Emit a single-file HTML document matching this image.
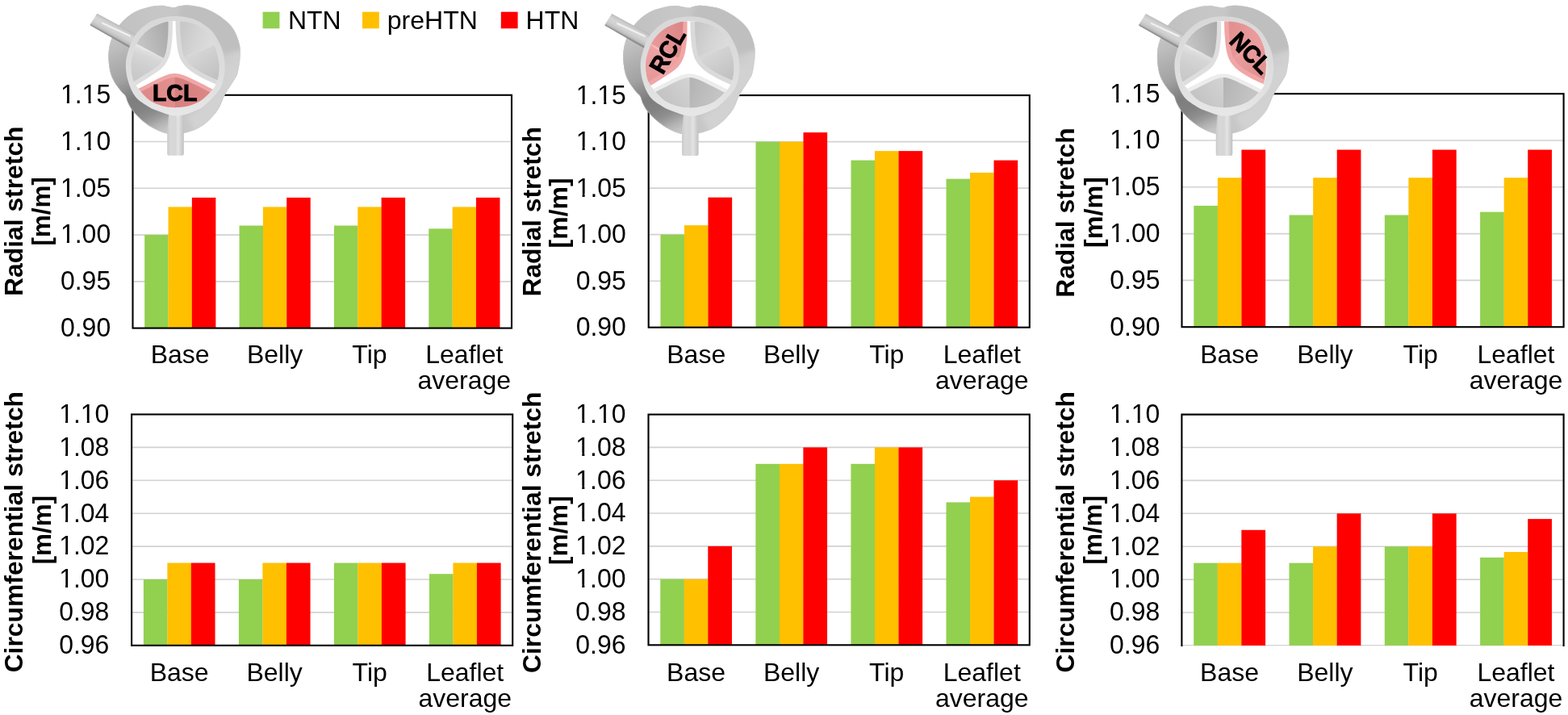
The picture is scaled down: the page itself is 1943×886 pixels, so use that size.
<!DOCTYPE html>
<html lang="en">
<head>
<meta charset="utf-8">
<title>Leaflet stretch charts</title>
<style>
html,body{margin:0;padding:0;background:#fff;}
body{width:1943px;height:886px;overflow:hidden;}
svg{display:block;}
text{font-family:"Liberation Sans",Arial,Helvetica,sans-serif;fill:#000;}
.t{font-size:32px;}
.b{font-size:32px;font-weight:bold;}
.v{font-size:28.5px;font-weight:bold;stroke:#000;stroke-width:1px;stroke-linejoin:miter;}
</style>
</head>
<body>
<svg width="1943" height="886" viewBox="0 0 1943 886">
<rect width="1943" height="886" fill="#fff"/>
<g>
<line x1="164.5" y1="348.84" x2="634" y2="348.84" stroke="#D2D2D2" stroke-width="1.6"/>
<line x1="164.5" y1="291.08" x2="634" y2="291.08" stroke="#D2D2D2" stroke-width="1.6"/>
<line x1="164.5" y1="233.32" x2="634" y2="233.32" stroke="#D2D2D2" stroke-width="1.6"/>
<line x1="164.5" y1="175.56" x2="634" y2="175.56" stroke="#D2D2D2" stroke-width="1.6"/>
<rect x="179.17" y="291.08" width="29.49" height="115.52" fill="#92D050"/>
<rect x="208.52" y="256.42" width="29.49" height="150.18" fill="#FFC000"/>
<rect x="237.86" y="244.87" width="29.49" height="161.73" fill="#FF0000"/>
<rect x="296.55" y="279.53" width="29.49" height="127.07" fill="#92D050"/>
<rect x="325.89" y="256.42" width="29.49" height="150.18" fill="#FFC000"/>
<rect x="355.23" y="244.87" width="29.49" height="161.73" fill="#FF0000"/>
<rect x="413.92" y="279.53" width="29.49" height="127.07" fill="#92D050"/>
<rect x="443.27" y="256.42" width="29.49" height="150.18" fill="#FFC000"/>
<rect x="472.61" y="244.87" width="29.49" height="161.73" fill="#FF0000"/>
<rect x="531.3" y="283.37" width="29.49" height="123.23" fill="#92D050"/>
<rect x="560.64" y="256.42" width="29.49" height="150.18" fill="#FFC000"/>
<rect x="589.98" y="244.87" width="29.49" height="161.73" fill="#FF0000"/>
<rect x="164.5" y="117.8" width="469.5" height="288.8" fill="none" stroke="#000" stroke-width="2.1"/>
<text transform="translate(137.2 417) scale(1 1.045)" text-anchor="end" class="t">0.90</text>
<text transform="translate(137.2 359.24) scale(1 1.045)" text-anchor="end" class="t">0.95</text>
<text transform="translate(137.2 301.48) scale(1 1.045)" text-anchor="end" class="t">1.00</text>
<rect x="76.52" y="297.78" width="6.35" height="4.5" fill="#fff"/>
<rect x="85.92" y="297.78" width="6" height="4.5" fill="#fff"/>
<text transform="translate(137.2 243.72) scale(1 1.045)" text-anchor="end" class="t">1.05</text>
<rect x="76.52" y="240.02" width="6.35" height="4.5" fill="#fff"/>
<rect x="85.92" y="240.02" width="6" height="4.5" fill="#fff"/>
<text transform="translate(137.2 185.96) scale(1 1.045)" text-anchor="end" class="t">1.10</text>
<rect x="76.52" y="182.26" width="6.35" height="4.5" fill="#fff"/>
<rect x="85.92" y="182.26" width="6" height="4.5" fill="#fff"/>
<rect x="103.21" y="182.26" width="6.35" height="4.5" fill="#fff"/>
<rect x="112.61" y="182.26" width="6" height="4.5" fill="#fff"/>
<text transform="translate(137.2 128.2) scale(1 1.045)" text-anchor="end" class="t">1.15</text>
<rect x="76.52" y="124.5" width="6.35" height="4.5" fill="#fff"/>
<rect x="85.92" y="124.5" width="6" height="4.5" fill="#fff"/>
<rect x="103.21" y="124.5" width="6.35" height="4.5" fill="#fff"/>
<rect x="112.61" y="124.5" width="6" height="4.5" fill="#fff"/>
<text transform="translate(223.19 450.1)" text-anchor="middle" class="t">Base</text>
<text transform="translate(340.56 450.1)" text-anchor="middle" class="t">Belly</text>
<text transform="translate(457.94 450.1)" text-anchor="middle" class="t">Tip</text>
<text transform="translate(575.31 450.1)" text-anchor="middle" class="t">Leaflet</text>
<text transform="translate(575.31 482.1)" text-anchor="middle" class="t">average</text>
<text transform="translate(27.7 261.7) rotate(-90) scale(0.995 1)" text-anchor="middle" class="b">Radial stretch</text>
<text transform="translate(61.6 261.9) rotate(-90) scale(0.98 0.97)" text-anchor="middle" class="b">[m/m]</text>
</g>
<g>
<line x1="803.7" y1="348.18" x2="1275.8" y2="348.18" stroke="#D2D2D2" stroke-width="1.6"/>
<line x1="803.7" y1="290.66" x2="1275.8" y2="290.66" stroke="#D2D2D2" stroke-width="1.6"/>
<line x1="803.7" y1="233.14" x2="1275.8" y2="233.14" stroke="#D2D2D2" stroke-width="1.6"/>
<line x1="803.7" y1="175.62" x2="1275.8" y2="175.62" stroke="#D2D2D2" stroke-width="1.6"/>
<rect x="818.45" y="290.66" width="29.66" height="115.04" fill="#92D050"/>
<rect x="847.96" y="279.16" width="29.66" height="126.54" fill="#FFC000"/>
<rect x="877.47" y="244.64" width="29.66" height="161.06" fill="#FF0000"/>
<rect x="936.48" y="175.62" width="29.66" height="230.08" fill="#92D050"/>
<rect x="965.98" y="175.62" width="29.66" height="230.08" fill="#FFC000"/>
<rect x="995.49" y="164.12" width="29.66" height="241.58" fill="#FF0000"/>
<rect x="1054.5" y="198.63" width="29.66" height="207.07" fill="#92D050"/>
<rect x="1084.01" y="187.12" width="29.66" height="218.58" fill="#FFC000"/>
<rect x="1113.52" y="187.12" width="29.66" height="218.58" fill="#FF0000"/>
<rect x="1172.53" y="221.64" width="29.66" height="184.06" fill="#92D050"/>
<rect x="1202.03" y="213.96" width="29.66" height="191.74" fill="#FFC000"/>
<rect x="1231.54" y="198.63" width="29.66" height="207.07" fill="#FF0000"/>
<rect x="803.7" y="118.1" width="472.1" height="287.6" fill="none" stroke="#000" stroke-width="2.1"/>
<text transform="translate(775.9 416.1) scale(1 1.045)" text-anchor="end" class="t">0.90</text>
<text transform="translate(775.9 358.58) scale(1 1.045)" text-anchor="end" class="t">0.95</text>
<text transform="translate(775.9 301.06) scale(1 1.045)" text-anchor="end" class="t">1.00</text>
<rect x="715.22" y="297.36" width="6.35" height="4.5" fill="#fff"/>
<rect x="724.62" y="297.36" width="6" height="4.5" fill="#fff"/>
<text transform="translate(775.9 243.54) scale(1 1.045)" text-anchor="end" class="t">1.05</text>
<rect x="715.22" y="239.84" width="6.35" height="4.5" fill="#fff"/>
<rect x="724.62" y="239.84" width="6" height="4.5" fill="#fff"/>
<text transform="translate(775.9 186.02) scale(1 1.045)" text-anchor="end" class="t">1.10</text>
<rect x="715.22" y="182.32" width="6.35" height="4.5" fill="#fff"/>
<rect x="724.62" y="182.32" width="6" height="4.5" fill="#fff"/>
<rect x="741.91" y="182.32" width="6.35" height="4.5" fill="#fff"/>
<rect x="751.31" y="182.32" width="6" height="4.5" fill="#fff"/>
<text transform="translate(775.9 128.5) scale(1 1.045)" text-anchor="end" class="t">1.15</text>
<rect x="715.22" y="124.8" width="6.35" height="4.5" fill="#fff"/>
<rect x="724.62" y="124.8" width="6" height="4.5" fill="#fff"/>
<rect x="741.91" y="124.8" width="6.35" height="4.5" fill="#fff"/>
<rect x="751.31" y="124.8" width="6" height="4.5" fill="#fff"/>
<text transform="translate(862.71 450.1)" text-anchor="middle" class="t">Base</text>
<text transform="translate(980.74 450.1)" text-anchor="middle" class="t">Belly</text>
<text transform="translate(1098.76 450.1)" text-anchor="middle" class="t">Tip</text>
<text transform="translate(1216.79 450.1)" text-anchor="middle" class="t">Leaflet</text>
<text transform="translate(1216.79 482.1)" text-anchor="middle" class="t">average</text>
<text transform="translate(669.7 262.35) rotate(-90) scale(0.995 1)" text-anchor="middle" class="b">Radial stretch</text>
<text transform="translate(703 263.9) rotate(-90) scale(1 0.97)" text-anchor="middle" class="b">[m/m]</text>
</g>
<g>
<line x1="1464.5" y1="347.4" x2="1937.6" y2="347.4" stroke="#D2D2D2" stroke-width="1.6"/>
<line x1="1464.5" y1="289.6" x2="1937.6" y2="289.6" stroke="#D2D2D2" stroke-width="1.6"/>
<line x1="1464.5" y1="231.8" x2="1937.6" y2="231.8" stroke="#D2D2D2" stroke-width="1.6"/>
<line x1="1464.5" y1="174" x2="1937.6" y2="174" stroke="#D2D2D2" stroke-width="1.6"/>
<rect x="1479.28" y="254.92" width="29.72" height="150.28" fill="#92D050"/>
<rect x="1508.85" y="220.24" width="29.72" height="184.96" fill="#FFC000"/>
<rect x="1538.42" y="185.56" width="29.72" height="219.64" fill="#FF0000"/>
<rect x="1597.56" y="266.48" width="29.72" height="138.72" fill="#92D050"/>
<rect x="1627.13" y="220.24" width="29.72" height="184.96" fill="#FFC000"/>
<rect x="1656.7" y="185.56" width="29.72" height="219.64" fill="#FF0000"/>
<rect x="1715.83" y="266.48" width="29.72" height="138.72" fill="#92D050"/>
<rect x="1745.4" y="220.24" width="29.72" height="184.96" fill="#FFC000"/>
<rect x="1774.97" y="185.56" width="29.72" height="219.64" fill="#FF0000"/>
<rect x="1834.11" y="262.63" width="29.72" height="142.57" fill="#92D050"/>
<rect x="1863.68" y="220.24" width="29.72" height="184.96" fill="#FFC000"/>
<rect x="1893.25" y="185.56" width="29.72" height="219.64" fill="#FF0000"/>
<rect x="1464.5" y="116.2" width="473.1" height="289" fill="none" stroke="#000" stroke-width="2.1"/>
<text transform="translate(1437.5 415.6) scale(1 1.045)" text-anchor="end" class="t">0.90</text>
<text transform="translate(1437.5 357.8) scale(1 1.045)" text-anchor="end" class="t">0.95</text>
<text transform="translate(1437.5 300) scale(1 1.045)" text-anchor="end" class="t">1.00</text>
<rect x="1376.82" y="296.3" width="6.35" height="4.5" fill="#fff"/>
<rect x="1386.22" y="296.3" width="6" height="4.5" fill="#fff"/>
<text transform="translate(1437.5 242.2) scale(1 1.045)" text-anchor="end" class="t">1.05</text>
<rect x="1376.82" y="238.5" width="6.35" height="4.5" fill="#fff"/>
<rect x="1386.22" y="238.5" width="6" height="4.5" fill="#fff"/>
<text transform="translate(1437.5 184.4) scale(1 1.045)" text-anchor="end" class="t">1.10</text>
<rect x="1376.82" y="180.7" width="6.35" height="4.5" fill="#fff"/>
<rect x="1386.22" y="180.7" width="6" height="4.5" fill="#fff"/>
<rect x="1403.51" y="180.7" width="6.35" height="4.5" fill="#fff"/>
<rect x="1412.91" y="180.7" width="6" height="4.5" fill="#fff"/>
<text transform="translate(1437.5 126.6) scale(1 1.045)" text-anchor="end" class="t">1.15</text>
<rect x="1376.82" y="122.9" width="6.35" height="4.5" fill="#fff"/>
<rect x="1386.22" y="122.9" width="6" height="4.5" fill="#fff"/>
<rect x="1403.51" y="122.9" width="6.35" height="4.5" fill="#fff"/>
<rect x="1412.91" y="122.9" width="6" height="4.5" fill="#fff"/>
<text transform="translate(1523.64 449.7)" text-anchor="middle" class="t">Base</text>
<text transform="translate(1641.91 449.7)" text-anchor="middle" class="t">Belly</text>
<text transform="translate(1760.19 449.7)" text-anchor="middle" class="t">Tip</text>
<text transform="translate(1878.46 449.7)" text-anchor="middle" class="t">Leaflet</text>
<text transform="translate(1878.46 481.7)" text-anchor="middle" class="t">average</text>
<text transform="translate(1330.9 263.6) rotate(-90) scale(0.995 1)" text-anchor="middle" class="b">Radial stretch</text>
<text transform="translate(1365.7 263.1) rotate(-90) scale(1.01 0.97)" text-anchor="middle" class="b">[m/m]</text>
</g>
<g>
<line x1="163.1" y1="758.9" x2="635.2" y2="758.9" stroke="#D2D2D2" stroke-width="1.6"/>
<line x1="163.1" y1="718" x2="635.2" y2="718" stroke="#D2D2D2" stroke-width="1.6"/>
<line x1="163.1" y1="677.1" x2="635.2" y2="677.1" stroke="#D2D2D2" stroke-width="1.6"/>
<line x1="163.1" y1="636.2" x2="635.2" y2="636.2" stroke="#D2D2D2" stroke-width="1.6"/>
<line x1="163.1" y1="595.3" x2="635.2" y2="595.3" stroke="#D2D2D2" stroke-width="1.6"/>
<line x1="163.1" y1="554.4" x2="635.2" y2="554.4" stroke="#D2D2D2" stroke-width="1.6"/>
<rect x="177.85" y="718" width="29.66" height="81.8" fill="#92D050"/>
<rect x="207.36" y="697.55" width="29.66" height="102.25" fill="#FFC000"/>
<rect x="236.87" y="697.55" width="29.66" height="102.25" fill="#FF0000"/>
<rect x="295.88" y="718" width="29.66" height="81.8" fill="#92D050"/>
<rect x="325.38" y="697.55" width="29.66" height="102.25" fill="#FFC000"/>
<rect x="354.89" y="697.55" width="29.66" height="102.25" fill="#FF0000"/>
<rect x="413.9" y="697.55" width="29.66" height="102.25" fill="#92D050"/>
<rect x="443.41" y="697.55" width="29.66" height="102.25" fill="#FFC000"/>
<rect x="472.92" y="697.55" width="29.66" height="102.25" fill="#FF0000"/>
<rect x="531.93" y="711.19" width="29.66" height="88.61" fill="#92D050"/>
<rect x="561.43" y="697.55" width="29.66" height="102.25" fill="#FFC000"/>
<rect x="590.94" y="697.55" width="29.66" height="102.25" fill="#FF0000"/>
<rect x="163.1" y="513.5" width="472.1" height="286.3" fill="none" stroke="#000" stroke-width="2.1"/>
<text transform="translate(135.4 810.1) scale(1 1.045)" text-anchor="end" class="t">0.96</text>
<text transform="translate(135.4 769.2) scale(1 1.045)" text-anchor="end" class="t">0.98</text>
<text transform="translate(135.4 728.3) scale(1 1.045)" text-anchor="end" class="t">1.00</text>
<rect x="74.72" y="724.6" width="6.35" height="4.5" fill="#fff"/>
<rect x="84.12" y="724.6" width="6" height="4.5" fill="#fff"/>
<text transform="translate(135.4 687.4) scale(1 1.045)" text-anchor="end" class="t">1.02</text>
<rect x="74.72" y="683.7" width="6.35" height="4.5" fill="#fff"/>
<rect x="84.12" y="683.7" width="6" height="4.5" fill="#fff"/>
<text transform="translate(135.4 646.5) scale(1 1.045)" text-anchor="end" class="t">1.04</text>
<rect x="74.72" y="642.8" width="6.35" height="4.5" fill="#fff"/>
<rect x="84.12" y="642.8" width="6" height="4.5" fill="#fff"/>
<text transform="translate(135.4 605.6) scale(1 1.045)" text-anchor="end" class="t">1.06</text>
<rect x="74.72" y="601.9" width="6.35" height="4.5" fill="#fff"/>
<rect x="84.12" y="601.9" width="6" height="4.5" fill="#fff"/>
<text transform="translate(135.4 564.7) scale(1 1.045)" text-anchor="end" class="t">1.08</text>
<rect x="74.72" y="561" width="6.35" height="4.5" fill="#fff"/>
<rect x="84.12" y="561" width="6" height="4.5" fill="#fff"/>
<text transform="translate(135.4 523.8) scale(1 1.045)" text-anchor="end" class="t">1.10</text>
<rect x="74.72" y="520.1" width="6.35" height="4.5" fill="#fff"/>
<rect x="84.12" y="520.1" width="6" height="4.5" fill="#fff"/>
<rect x="101.41" y="520.1" width="6.35" height="4.5" fill="#fff"/>
<rect x="110.81" y="520.1" width="6" height="4.5" fill="#fff"/>
<text transform="translate(222.11 844.2)" text-anchor="middle" class="t">Base</text>
<text transform="translate(340.14 844.2)" text-anchor="middle" class="t">Belly</text>
<text transform="translate(458.16 844.2)" text-anchor="middle" class="t">Tip</text>
<text transform="translate(576.19 844.2)" text-anchor="middle" class="t">Leaflet</text>
<text transform="translate(576.19 876.2)" text-anchor="middle" class="t">average</text>
<text transform="translate(27.8 659.15) rotate(-90) scale(0.995 1)" text-anchor="middle" class="b">Circumferential stretch</text>
<text transform="translate(62.6 656.65) rotate(-90) scale(0.98 0.97)" text-anchor="middle" class="b">[m/m]</text>
</g>
<g>
<line x1="803.5" y1="758.49" x2="1275.8" y2="758.49" stroke="#D2D2D2" stroke-width="1.6"/>
<line x1="803.5" y1="717.67" x2="1275.8" y2="717.67" stroke="#D2D2D2" stroke-width="1.6"/>
<line x1="803.5" y1="676.86" x2="1275.8" y2="676.86" stroke="#D2D2D2" stroke-width="1.6"/>
<line x1="803.5" y1="636.04" x2="1275.8" y2="636.04" stroke="#D2D2D2" stroke-width="1.6"/>
<line x1="803.5" y1="595.23" x2="1275.8" y2="595.23" stroke="#D2D2D2" stroke-width="1.6"/>
<line x1="803.5" y1="554.41" x2="1275.8" y2="554.41" stroke="#D2D2D2" stroke-width="1.6"/>
<rect x="818.26" y="717.67" width="29.67" height="81.63" fill="#92D050"/>
<rect x="847.78" y="717.67" width="29.67" height="81.63" fill="#FFC000"/>
<rect x="877.3" y="676.86" width="29.67" height="122.44" fill="#FF0000"/>
<rect x="936.33" y="574.82" width="29.67" height="224.48" fill="#92D050"/>
<rect x="965.85" y="574.82" width="29.67" height="224.48" fill="#FFC000"/>
<rect x="995.37" y="554.41" width="29.67" height="244.89" fill="#FF0000"/>
<rect x="1054.41" y="574.82" width="29.67" height="224.48" fill="#92D050"/>
<rect x="1083.93" y="554.41" width="29.67" height="244.89" fill="#FFC000"/>
<rect x="1113.45" y="554.41" width="29.67" height="244.89" fill="#FF0000"/>
<rect x="1172.48" y="622.43" width="29.67" height="176.87" fill="#92D050"/>
<rect x="1202" y="615.64" width="29.67" height="183.66" fill="#FFC000"/>
<rect x="1231.52" y="595.23" width="29.67" height="204.07" fill="#FF0000"/>
<rect x="803.5" y="513.6" width="472.3" height="285.7" fill="none" stroke="#000" stroke-width="2.1"/>
<text transform="translate(775.6 809.6) scale(1 1.045)" text-anchor="end" class="t">0.96</text>
<text transform="translate(775.6 768.79) scale(1 1.045)" text-anchor="end" class="t">0.98</text>
<text transform="translate(775.6 727.97) scale(1 1.045)" text-anchor="end" class="t">1.00</text>
<rect x="714.92" y="724.27" width="6.35" height="4.5" fill="#fff"/>
<rect x="724.32" y="724.27" width="6" height="4.5" fill="#fff"/>
<text transform="translate(775.6 687.16) scale(1 1.045)" text-anchor="end" class="t">1.02</text>
<rect x="714.92" y="683.46" width="6.35" height="4.5" fill="#fff"/>
<rect x="724.32" y="683.46" width="6" height="4.5" fill="#fff"/>
<text transform="translate(775.6 646.34) scale(1 1.045)" text-anchor="end" class="t">1.04</text>
<rect x="714.92" y="642.64" width="6.35" height="4.5" fill="#fff"/>
<rect x="724.32" y="642.64" width="6" height="4.5" fill="#fff"/>
<text transform="translate(775.6 605.53) scale(1 1.045)" text-anchor="end" class="t">1.06</text>
<rect x="714.92" y="601.83" width="6.35" height="4.5" fill="#fff"/>
<rect x="724.32" y="601.83" width="6" height="4.5" fill="#fff"/>
<text transform="translate(775.6 564.71) scale(1 1.045)" text-anchor="end" class="t">1.08</text>
<rect x="714.92" y="561.01" width="6.35" height="4.5" fill="#fff"/>
<rect x="724.32" y="561.01" width="6" height="4.5" fill="#fff"/>
<text transform="translate(775.6 523.9) scale(1 1.045)" text-anchor="end" class="t">1.10</text>
<rect x="714.92" y="520.2" width="6.35" height="4.5" fill="#fff"/>
<rect x="724.32" y="520.2" width="6" height="4.5" fill="#fff"/>
<rect x="741.61" y="520.2" width="6.35" height="4.5" fill="#fff"/>
<rect x="751.01" y="520.2" width="6" height="4.5" fill="#fff"/>
<text transform="translate(862.54 844.2)" text-anchor="middle" class="t">Base</text>
<text transform="translate(980.61 844.2)" text-anchor="middle" class="t">Belly</text>
<text transform="translate(1098.69 844.2)" text-anchor="middle" class="t">Tip</text>
<text transform="translate(1216.76 844.2)" text-anchor="middle" class="t">Leaflet</text>
<text transform="translate(1216.76 876.2)" text-anchor="middle" class="t">average</text>
<text transform="translate(669.75 659.75) rotate(-90) scale(0.995 1)" text-anchor="middle" class="b">Circumferential stretch</text>
<text transform="translate(702.7 657.25) rotate(-90) scale(0.98 0.97)" text-anchor="middle" class="b">[m/m]</text>
</g>
<g>
<line x1="1464.4" y1="759" x2="1937.6" y2="759" stroke="#D2D2D2" stroke-width="1.6"/>
<line x1="1464.4" y1="718.1" x2="1937.6" y2="718.1" stroke="#D2D2D2" stroke-width="1.6"/>
<line x1="1464.4" y1="677.2" x2="1937.6" y2="677.2" stroke="#D2D2D2" stroke-width="1.6"/>
<line x1="1464.4" y1="636.3" x2="1937.6" y2="636.3" stroke="#D2D2D2" stroke-width="1.6"/>
<line x1="1464.4" y1="595.4" x2="1937.6" y2="595.4" stroke="#D2D2D2" stroke-width="1.6"/>
<line x1="1464.4" y1="554.5" x2="1937.6" y2="554.5" stroke="#D2D2D2" stroke-width="1.6"/>
<line x1="1464.4" y1="799.6" x2="1937.6" y2="799.6" stroke="#D2D2D2" stroke-width="1.2"/>
<rect x="1479.19" y="697.65" width="29.72" height="102.25" fill="#92D050"/>
<rect x="1508.76" y="697.65" width="29.72" height="102.25" fill="#FFC000"/>
<rect x="1538.34" y="656.75" width="29.72" height="143.15" fill="#FF0000"/>
<rect x="1597.49" y="697.65" width="29.72" height="102.25" fill="#92D050"/>
<rect x="1627.06" y="677.2" width="29.72" height="122.7" fill="#FFC000"/>
<rect x="1656.64" y="636.3" width="29.72" height="163.6" fill="#FF0000"/>
<rect x="1715.79" y="677.2" width="29.72" height="122.7" fill="#92D050"/>
<rect x="1745.36" y="677.2" width="29.72" height="122.7" fill="#FFC000"/>
<rect x="1774.94" y="636.3" width="29.72" height="163.6" fill="#FF0000"/>
<rect x="1834.09" y="690.84" width="29.72" height="109.06" fill="#92D050"/>
<rect x="1863.66" y="684.01" width="29.72" height="115.89" fill="#FFC000"/>
<rect x="1893.24" y="643.11" width="29.72" height="156.79" fill="#FF0000"/>
<path d="M1464.4 800.9V513.6H1937.6V800.9" fill="none" stroke="#000" stroke-width="2.1" stroke-linejoin="miter"/>
<text transform="translate(1437.3 810.2) scale(1 1.045)" text-anchor="end" class="t">0.96</text>
<text transform="translate(1437.3 769.3) scale(1 1.045)" text-anchor="end" class="t">0.98</text>
<text transform="translate(1437.3 728.4) scale(1 1.045)" text-anchor="end" class="t">1.00</text>
<rect x="1376.62" y="724.7" width="6.35" height="4.5" fill="#fff"/>
<rect x="1386.02" y="724.7" width="6" height="4.5" fill="#fff"/>
<text transform="translate(1437.3 687.5) scale(1 1.045)" text-anchor="end" class="t">1.02</text>
<rect x="1376.62" y="683.8" width="6.35" height="4.5" fill="#fff"/>
<rect x="1386.02" y="683.8" width="6" height="4.5" fill="#fff"/>
<text transform="translate(1437.3 646.6) scale(1 1.045)" text-anchor="end" class="t">1.04</text>
<rect x="1376.62" y="642.9" width="6.35" height="4.5" fill="#fff"/>
<rect x="1386.02" y="642.9" width="6" height="4.5" fill="#fff"/>
<text transform="translate(1437.3 605.7) scale(1 1.045)" text-anchor="end" class="t">1.06</text>
<rect x="1376.62" y="602" width="6.35" height="4.5" fill="#fff"/>
<rect x="1386.02" y="602" width="6" height="4.5" fill="#fff"/>
<text transform="translate(1437.3 564.8) scale(1 1.045)" text-anchor="end" class="t">1.08</text>
<rect x="1376.62" y="561.1" width="6.35" height="4.5" fill="#fff"/>
<rect x="1386.02" y="561.1" width="6" height="4.5" fill="#fff"/>
<text transform="translate(1437.3 523.9) scale(1 1.045)" text-anchor="end" class="t">1.10</text>
<rect x="1376.62" y="520.2" width="6.35" height="4.5" fill="#fff"/>
<rect x="1386.02" y="520.2" width="6" height="4.5" fill="#fff"/>
<rect x="1403.31" y="520.2" width="6.35" height="4.5" fill="#fff"/>
<rect x="1412.71" y="520.2" width="6" height="4.5" fill="#fff"/>
<text transform="translate(1523.55 844.2)" text-anchor="middle" class="t">Base</text>
<text transform="translate(1641.85 844.2)" text-anchor="middle" class="t">Belly</text>
<text transform="translate(1760.15 844.2)" text-anchor="middle" class="t">Tip</text>
<text transform="translate(1878.45 844.2)" text-anchor="middle" class="t">Leaflet</text>
<text transform="translate(1878.45 876.2)" text-anchor="middle" class="t">average</text>
<text transform="translate(1330.9 659.25) rotate(-90) scale(0.995 1)" text-anchor="middle" class="b">Circumferential stretch</text>
<text transform="translate(1364.8 656.75) rotate(-90) scale(0.98 0.97)" text-anchor="middle" class="b">[m/m]</text>
</g>
<g>
<rect x="325.6" y="14.7" width="20.8" height="20.6" fill="#92D050"/>
<text transform="translate(356.9 36) scale(1 0.985)" class="t">NTN</text>
<rect x="449" y="14.7" width="20.8" height="20.6" fill="#FFC000"/>
<text transform="translate(479.8 36) scale(1 0.985)" class="t">preHTN</text>
<rect x="620.8" y="14.7" width="20.8" height="20.6" fill="#FF0000"/>
<text transform="translate(651.6 36) scale(1 0.985)" class="t">HTN</text>
</g>
<defs>
<linearGradient id="gBody" gradientUnits="userSpaceOnUse" x1="140" y1="0" x2="300" y2="0">
<stop offset="0" stop-color="#c0c0c0"/><stop offset="0.3" stop-color="#c6c6c6"/><stop offset="0.75" stop-color="#c8c8c8"/><stop offset="1" stop-color="#d2d2d2"/>
</linearGradient>
<linearGradient id="gBand" gradientUnits="userSpaceOnUse" x1="150" y1="44" x2="206" y2="166">
<stop offset="0" stop-color="#c4c4c4"/><stop offset="0.1" stop-color="#bcbcbc"/><stop offset="0.22" stop-color="#b0b0b0"/><stop offset="0.38" stop-color="#a2a2a2"/><stop offset="0.5" stop-color="#8a8a8a"/><stop offset="0.58" stop-color="#7e7e7e"/><stop offset="0.7" stop-color="#828282"/><stop offset="0.78" stop-color="#8e8e8e"/><stop offset="0.83" stop-color="#9c9c9c"/><stop offset="0.89" stop-color="#b2b2b2"/><stop offset="0.95" stop-color="#c2c2c2"/><stop offset="1" stop-color="#c8c8c8"/>
</linearGradient>
<linearGradient id="gTubeB" gradientUnits="userSpaceOnUse" x1="207" y1="0" x2="228" y2="0">
<stop offset="0" stop-color="#cacaca"/><stop offset="0.2" stop-color="#d8d8d8"/><stop offset="0.5" stop-color="#d6d6d6"/><stop offset="0.66" stop-color="#e4e4e4"/><stop offset="0.85" stop-color="#d0d0d0"/><stop offset="1" stop-color="#c0c0c0"/>
</linearGradient>
<linearGradient id="gTubeA" gradientUnits="userSpaceOnUse" x1="146.7" y1="31" x2="138.2" y2="46.4">
<stop offset="0" stop-color="#b8b8b8"/><stop offset="0.12" stop-color="#c8c8c8"/><stop offset="0.35" stop-color="#d6d6d6"/><stop offset="0.6" stop-color="#d0d0d0"/><stop offset="0.82" stop-color="#c0c0c0"/><stop offset="0.93" stop-color="#9a9a9a"/><stop offset="1" stop-color="#7e7e7e"/>
</linearGradient>
<linearGradient id="gRing" gradientUnits="userSpaceOnUse" x1="0" y1="20" x2="0" y2="146">
<stop offset="0" stop-color="#d8d8d8"/><stop offset="0.45" stop-color="#dcdcdc"/><stop offset="0.8" stop-color="#e2e2e2"/><stop offset="1" stop-color="#e8e8e8"/>
</linearGradient>
<linearGradient id="gLup" gradientUnits="userSpaceOnUse" x1="170" y1="50" x2="210" y2="38">
<stop offset="0" stop-color="#c6c6c6"/><stop offset="0.6" stop-color="#b4b4b4"/><stop offset="1" stop-color="#aaaaaa"/>
</linearGradient>
<linearGradient id="gLlo" gradientUnits="userSpaceOnUse" x1="188" y1="64" x2="174" y2="100">
<stop offset="0" stop-color="#e2e2e2"/><stop offset="0.22" stop-color="#d6d6d6"/><stop offset="0.6" stop-color="#cecece"/><stop offset="1" stop-color="#c8c8c8"/>
</linearGradient>
<linearGradient id="gRup" gradientUnits="userSpaceOnUse" x1="224" y1="40" x2="268" y2="56">
<stop offset="0" stop-color="#c8c8c8"/><stop offset="0.45" stop-color="#d4d4d4"/><stop offset="1" stop-color="#dedede"/>
</linearGradient>
<linearGradient id="gRlo" gradientUnits="userSpaceOnUse" x1="240" y1="66" x2="262" y2="98">
<stop offset="0" stop-color="#d6d6d6"/><stop offset="1" stop-color="#c2c2c2"/>
</linearGradient>
<linearGradient id="gBl" gradientUnits="userSpaceOnUse" x1="216" y1="96" x2="180" y2="124">
<stop offset="0" stop-color="#d4d4d4"/><stop offset="1" stop-color="#c2c2c2"/>
</linearGradient>
<linearGradient id="gBr" gradientUnits="userSpaceOnUse" x1="217" y1="100" x2="258" y2="116">
<stop offset="0" stop-color="#b4b4b4"/><stop offset="1" stop-color="#c6c6c6"/>
</linearGradient>
<linearGradient id="pLup" gradientUnits="userSpaceOnUse" x1="170" y1="50" x2="210" y2="38">
<stop offset="0" stop-color="#e89a9a"/><stop offset="0.6" stop-color="#e08e8e"/><stop offset="1" stop-color="#da8686"/>
</linearGradient>
<linearGradient id="pLlo" gradientUnits="userSpaceOnUse" x1="188" y1="64" x2="174" y2="100">
<stop offset="0" stop-color="#eea4a4"/><stop offset="1" stop-color="#e69898"/>
</linearGradient>
<linearGradient id="pRup" gradientUnits="userSpaceOnUse" x1="224" y1="40" x2="268" y2="56">
<stop offset="0" stop-color="#e29090"/><stop offset="0.45" stop-color="#e89898"/><stop offset="1" stop-color="#eca0a0"/>
</linearGradient>
<linearGradient id="pRlo" gradientUnits="userSpaceOnUse" x1="240" y1="66" x2="262" y2="98">
<stop offset="0" stop-color="#ea9c9c"/><stop offset="1" stop-color="#e08e8e"/>
</linearGradient>
<linearGradient id="pBl" gradientUnits="userSpaceOnUse" x1="216" y1="96" x2="180" y2="124">
<stop offset="0" stop-color="#e49090"/><stop offset="1" stop-color="#de8888"/>
</linearGradient>
<linearGradient id="pBr" gradientUnits="userSpaceOnUse" x1="217" y1="100" x2="258" y2="116">
<stop offset="0" stop-color="#d47e7e"/><stop offset="1" stop-color="#dc8686"/>
</linearGradient>
<filter id="fSoft" filterUnits="userSpaceOnUse" x="90" y="-10" width="240" height="220"><feGaussianBlur stdDeviation="0.6"/></filter>
<filter id="fBlur3" filterUnits="userSpaceOnUse" x="90" y="-30" width="250" height="240"><feGaussianBlur stdDeviation="3"/></filter>
<filter id="fBlur2" filterUnits="userSpaceOnUse" x="90" y="-30" width="250" height="240"><feGaussianBlur stdDeviation="1.6"/></filter>
<clipPath id="cBody"><path d="M214.8 9.2C211.1 9.1 204.3 6.8 199.0 6.8C193.7 6.8 188.8 7.5 183.2 9.0C177.5 10.5 170.9 12.2 165.1 15.8C159.3 19.4 152.8 24.9 148.2 30.5C143.6 36.1 140.1 43.4 137.8 49.6C135.5 55.8 134.7 61.3 134.4 67.7C134.2 74.1 135.1 82.4 136.3 88.0C137.5 93.6 139.2 97.0 141.5 101.3C143.8 105.5 148.0 110.6 150.3 113.5C152.6 116.4 154.0 116.5 155.3 118.8C156.7 121.1 157.0 124.1 158.4 127.1C159.8 130.1 161.3 133.2 163.9 136.6C166.5 140.0 170.1 143.9 174.0 147.4C177.9 150.9 182.8 154.7 187.6 157.6C192.4 160.5 198.1 163.1 203.0 164.6C207.9 166.1 212.7 166.6 217.0 166.6C221.3 166.6 224.6 165.9 229.0 164.8C233.4 163.7 238.8 162.3 243.5 160.0C248.2 157.7 252.6 154.9 257.1 150.8C261.6 146.7 267.0 140.8 270.6 135.2C274.2 129.5 275.6 122.8 278.8 116.9C282.0 111.0 287.0 104.5 289.6 100.0C292.2 95.5 293.2 95.4 294.6 90.0C296.0 84.6 297.7 74.0 297.9 67.7C298.1 61.4 297.4 57.2 296.0 52.0C294.6 46.8 292.2 40.9 289.5 36.5C286.8 32.1 283.5 28.9 279.5 25.5C275.5 22.1 270.4 18.5 265.5 15.8C260.6 13.1 255.8 10.8 250.3 9.3C244.8 7.8 237.4 6.9 232.6 6.6C227.8 6.3 224.5 7.2 221.5 7.6C218.5 8.0 218.6 9.3 214.8 9.2Z"/></clipPath>
<clipPath id="cInner"><path d="M216.5 26.0C221.3 26.0 227.9 26.5 233.0 27.6C238.1 28.7 242.6 30.0 247.0 32.6C251.4 35.2 256.1 38.3 259.5 43.0C262.9 47.7 265.5 55.0 267.5 61.0C269.5 67.0 271.1 73.3 271.6 79.0C272.1 84.7 271.5 90.4 270.6 95.0C269.8 99.6 268.5 103.0 266.5 106.5C264.5 110.0 261.7 113.0 258.5 116.2C255.3 119.4 251.2 123.2 247.5 125.6C243.8 128.0 239.6 129.2 236.0 130.4C232.4 131.6 229.2 132.1 226.0 132.6C222.8 133.1 220.2 133.2 217.0 133.2C213.8 133.2 210.2 132.9 207.0 132.4C203.8 131.9 201.5 131.5 197.7 130.0C193.9 128.5 188.8 126.8 184.4 123.4C180.0 120.0 174.6 113.7 171.3 109.5C168.0 105.3 166.1 102.9 164.6 98.0C163.1 93.1 162.2 85.5 162.3 80.0C162.4 74.5 163.6 69.8 165.0 65.0C166.4 60.2 168.5 55.5 170.8 51.5C173.1 47.5 175.8 44.1 179.0 41.0C182.2 37.9 185.8 35.3 190.0 33.0C194.2 30.7 199.6 28.6 204.0 27.4C208.4 26.2 211.7 26.0 216.5 26.0Z"/></clipPath>
<clipPath id="cRing"><path d="M221.5 20.3C226.6 20.6 231.3 21.2 236.0 22.6C240.7 24.0 245.1 25.6 249.6 28.4C254.1 31.2 259.1 34.2 263.2 39.3C267.3 44.4 271.8 52.4 274.4 59.0C277.0 65.6 278.1 72.8 278.6 79.0C279.1 85.2 278.3 90.9 277.4 95.9C276.5 100.9 275.1 105.2 273.0 109.2C270.9 113.2 268.1 116.2 264.5 120.0C260.9 123.8 255.5 129.2 251.5 132.2C247.5 135.2 244.2 136.2 240.3 137.9C236.4 139.6 231.9 141.2 228.0 142.2C224.1 143.1 220.7 143.8 217.0 143.6C213.3 143.4 209.7 142.2 206.0 141.2C202.3 140.1 198.5 138.7 195.0 137.3C191.5 135.9 189.5 135.7 185.0 132.8C180.5 129.9 172.3 125.5 167.9 120.0C163.5 114.5 160.6 106.7 158.6 100.0C156.6 93.3 155.8 86.1 155.8 80.0C155.9 73.9 157.4 68.6 158.9 63.2C160.4 57.8 162.6 51.9 165.1 47.4C167.6 42.9 170.4 39.7 174.2 36.1C178.0 32.5 182.4 28.5 187.7 26.0C192.9 23.5 200.1 21.8 205.7 20.9C211.3 19.9 216.4 20.0 221.5 20.3Z"/></clipPath>
<clipPath id="cLr"><path d="M214.0 25.0C213.9 27.9 214.0 36.9 213.7 42.6C213.4 48.4 212.7 54.9 212.0 59.5C211.3 64.1 210.9 66.5 209.6 70.0C208.3 73.5 206.4 77.3 204.3 80.2C202.2 83.1 200.6 84.5 197.1 87.2C193.6 89.9 188.8 92.8 183.6 96.2C178.4 99.6 168.9 105.5 166.0 107.4L150.0 118.0L140.0 20.0L214.0 8.0Z"/></clipPath>
<clipPath id="cRr"><path d="M217.5 25.0C217.6 27.9 217.7 36.9 218.1 42.6C218.5 48.4 219.1 54.8 219.8 59.5C220.6 64.2 221.4 67.6 222.6 70.8C223.8 74.0 224.8 75.9 227.1 78.7C229.3 81.5 232.1 84.7 236.1 87.7C240.1 90.7 245.4 93.8 250.8 96.7C256.2 99.6 265.6 103.6 268.5 105.0L285.0 118.0L295.0 20.0L217.5 8.0Z"/></clipPath>
<clipPath id="cBr"><path d="M169.5 110.9C173.3 109.0 186.1 102.3 192.1 99.4C198.1 96.5 201.7 94.7 205.7 93.3C209.7 91.9 212.6 91.0 216.3 91.0C220.1 91.0 223.4 91.8 228.2 93.5C233.0 95.2 239.0 98.3 245.1 101.3C251.2 104.3 261.7 109.7 265.0 111.4L285.0 118.0L275.0 160.0L160.0 160.0L150.0 118.0Z"/></clipPath>
<clipPath id="cLf"><path d="M208.6 24.9C208.6 27.8 208.6 36.7 208.3 42.3C208.0 47.9 207.3 54.4 206.7 58.7C206.0 63.0 205.7 65.1 204.5 68.1C203.4 71.2 201.7 74.6 199.9 77.0C198.1 79.5 197.0 80.5 193.8 82.9C190.6 85.4 185.8 88.4 180.7 91.7C175.5 95.0 166.0 101.0 163.1 102.8L150.0 118.0L140.0 20.0L214.0 8.0Z"/></clipPath>
<clipPath id="cRf"><path d="M223.1 24.8C223.2 27.7 223.3 36.6 223.7 42.2C224.1 47.9 224.6 54.2 225.3 58.6C226.0 63.0 226.8 66.0 227.8 68.8C228.9 71.6 229.5 72.8 231.5 75.2C233.4 77.6 235.8 80.5 239.5 83.2C243.1 86.0 248.2 89.0 253.4 91.8C258.7 94.5 268.0 98.6 270.9 99.9L285.0 118.0L295.0 20.0L217.5 8.0Z"/></clipPath>
<clipPath id="cBf"><path d="M171.7 115.2C175.4 113.3 188.3 106.6 194.2 103.7C200.1 100.8 203.6 99.2 207.3 97.8C211.0 96.5 213.0 95.8 216.3 95.8C219.5 95.8 222.1 96.4 226.6 98.0C231.0 99.7 237.0 102.7 243.0 105.6C249.0 108.6 259.5 114.0 262.8 115.7L285.0 118.0L275.0 160.0L160.0 160.0L150.0 118.0Z"/></clipPath>
</defs>
<g transform="translate(0 0)">
<g filter="url(#fSoft)">
<path d="M214.8 9.2C211.1 9.1 204.3 6.8 199.0 6.8C193.7 6.8 188.8 7.5 183.2 9.0C177.5 10.5 170.9 12.2 165.1 15.8C159.3 19.4 152.8 24.9 148.2 30.5C143.6 36.1 140.1 43.4 137.8 49.6C135.5 55.8 134.7 61.3 134.4 67.7C134.2 74.1 135.1 82.4 136.3 88.0C137.5 93.6 139.2 97.0 141.5 101.3C143.8 105.5 148.0 110.6 150.3 113.5C152.6 116.4 154.0 116.5 155.3 118.8C156.7 121.1 157.0 124.1 158.4 127.1C159.8 130.1 161.3 133.2 163.9 136.6C166.5 140.0 170.1 143.9 174.0 147.4C177.9 150.9 182.8 154.7 187.6 157.6C192.4 160.5 198.1 163.1 203.0 164.6C207.9 166.1 212.7 166.6 217.0 166.6C221.3 166.6 224.6 165.9 229.0 164.8C233.4 163.7 238.8 162.3 243.5 160.0C248.2 157.7 252.6 154.9 257.1 150.8C261.6 146.7 267.0 140.8 270.6 135.2C274.2 129.5 275.6 122.8 278.8 116.9C282.0 111.0 287.0 104.5 289.6 100.0C292.2 95.5 293.2 95.4 294.6 90.0C296.0 84.6 297.7 74.0 297.9 67.7C298.1 61.4 297.4 57.2 296.0 52.0C294.6 46.8 292.2 40.9 289.5 36.5C286.8 32.1 283.5 28.9 279.5 25.5C275.5 22.1 270.4 18.5 265.5 15.8C260.6 13.1 255.8 10.8 250.3 9.3C244.8 7.8 237.4 6.9 232.6 6.6C227.8 6.3 224.5 7.2 221.5 7.6C218.5 8.0 218.6 9.3 214.8 9.2Z" fill="url(#gBody)"/>
<g clip-path="url(#cBody)">
<path d="M146 46C141 70 146 100 157 120C166 136 180 149 196 157C202 160 208 162 214 163" stroke="url(#gBand)" stroke-width="46" fill="none"/>
<g filter="url(#fBlur3)">
<path d="M222 12C262 16 284 38 291 64" stroke="#bfbfbf" stroke-width="34" fill="none"/>
<path d="M291 82C288 104 270 137 238 156" stroke="#d2d2d2" stroke-width="26" fill="none"/>
</g>
<path d="M214.8 9.2C211.1 9.1 204.3 6.8 199.0 6.8C193.7 6.8 188.8 7.5 183.2 9.0C177.5 10.5 170.9 12.2 165.1 15.8C159.3 19.4 152.8 24.9 148.2 30.5C143.6 36.1 140.1 43.4 137.8 49.6C135.5 55.8 134.7 61.3 134.4 67.7C134.2 74.1 135.1 82.4 136.3 88.0C137.5 93.6 139.2 97.0 141.5 101.3C143.8 105.5 148.0 110.6 150.3 113.5C152.6 116.4 154.0 116.5 155.3 118.8C156.7 121.1 157.0 124.1 158.4 127.1C159.8 130.1 161.3 133.2 163.9 136.6C166.5 140.0 170.1 143.9 174.0 147.4C177.9 150.9 182.8 154.7 187.6 157.6C192.4 160.5 198.1 163.1 203.0 164.6C207.9 166.1 212.7 166.6 217.0 166.6C221.3 166.6 224.6 165.9 229.0 164.8C233.4 163.7 238.8 162.3 243.5 160.0C248.2 157.7 252.6 154.9 257.1 150.8C261.6 146.7 267.0 140.8 270.6 135.2C274.2 129.5 275.6 122.8 278.8 116.9C282.0 111.0 287.0 104.5 289.6 100.0C292.2 95.5 293.2 95.4 294.6 90.0C296.0 84.6 297.7 74.0 297.9 67.7C298.1 61.4 297.4 57.2 296.0 52.0C294.6 46.8 292.2 40.9 289.5 36.5C286.8 32.1 283.5 28.9 279.5 25.5C275.5 22.1 270.4 18.5 265.5 15.8C260.6 13.1 255.8 10.8 250.3 9.3C244.8 7.8 237.4 6.9 232.6 6.6C227.8 6.3 224.5 7.2 221.5 7.6C218.5 8.0 218.6 9.3 214.8 9.2Z" fill="none" stroke="#cccccc" stroke-width="1.2" opacity="0.6"/>
</g>
<path d="M120.3 16.7L172 44.6L163 60.6L112.2 31.7Q111.4 31 111.9 30Z" fill="url(#gTubeA)"/>
<path d="M127.3 28.9L161 44.5" stroke="#f2f2f2" stroke-width="2.1" fill="none" stroke-linecap="round" opacity="0.95"/>
<path d="M209.3 140L207.2 162V190.8Q207.2 192.8 209.2 192.8H225.8Q227.8 192.8 227.8 190.8V162L226.4 140Z" fill="url(#gTubeB)"/>
<path d="M221.5 20.3C226.6 20.6 231.3 21.2 236.0 22.6C240.7 24.0 245.1 25.6 249.6 28.4C254.1 31.2 259.1 34.2 263.2 39.3C267.3 44.4 271.8 52.4 274.4 59.0C277.0 65.6 278.1 72.8 278.6 79.0C279.1 85.2 278.3 90.9 277.4 95.9C276.5 100.9 275.1 105.2 273.0 109.2C270.9 113.2 268.1 116.2 264.5 120.0C260.9 123.8 255.5 129.2 251.5 132.2C247.5 135.2 244.2 136.2 240.3 137.9C236.4 139.6 231.9 141.2 228.0 142.2C224.1 143.1 220.7 143.8 217.0 143.6C213.3 143.4 209.7 142.2 206.0 141.2C202.3 140.1 198.5 138.7 195.0 137.3C191.5 135.9 189.5 135.7 185.0 132.8C180.5 129.9 172.3 125.5 167.9 120.0C163.5 114.5 160.6 106.7 158.6 100.0C156.6 93.3 155.8 86.1 155.8 80.0C155.9 73.9 157.4 68.6 158.9 63.2C160.4 57.8 162.6 51.9 165.1 47.4C167.6 42.9 170.4 39.7 174.2 36.1C178.0 32.5 182.4 28.5 187.7 26.0C192.9 23.5 200.1 21.8 205.7 20.9C211.3 19.9 216.4 20.0 221.5 20.3Z" fill="url(#gRing)"/>
<path d="M216.5 26.0C221.3 26.0 227.9 26.5 233.0 27.6C238.1 28.7 242.6 30.0 247.0 32.6C251.4 35.2 256.1 38.3 259.5 43.0C262.9 47.7 265.5 55.0 267.5 61.0C269.5 67.0 271.1 73.3 271.6 79.0C272.1 84.7 271.5 90.4 270.6 95.0C269.8 99.6 268.5 103.0 266.5 106.5C264.5 110.0 261.7 113.0 258.5 116.2C255.3 119.4 251.2 123.2 247.5 125.6C243.8 128.0 239.6 129.2 236.0 130.4C232.4 131.6 229.2 132.1 226.0 132.6C222.8 133.1 220.2 133.2 217.0 133.2C213.8 133.2 210.2 132.9 207.0 132.4C203.8 131.9 201.5 131.5 197.7 130.0C193.9 128.5 188.8 126.8 184.4 123.4C180.0 120.0 174.6 113.7 171.3 109.5C168.0 105.3 166.1 102.9 164.6 98.0C163.1 93.1 162.2 85.5 162.3 80.0C162.4 74.5 163.6 69.8 165.0 65.0C166.4 60.2 168.5 55.5 170.8 51.5C173.1 47.5 175.8 44.1 179.0 41.0C182.2 37.9 185.8 35.3 190.0 33.0C194.2 30.7 199.6 28.6 204.0 27.4C208.4 26.2 211.7 26.0 216.5 26.0Z" fill="#ffffff"/>
<g clip-path="url(#cInner)">
<g clip-path="url(#cLr)"><rect x="140" y="0" width="160" height="170" fill="#dedede"/></g>
<g clip-path="url(#cRr)"><rect x="140" y="0" width="160" height="170" fill="#dadada"/></g>
<g clip-path="url(#cBr)"><rect x="140" y="0" width="160" height="170" fill="#f0a6a6"/></g>
<g clip-path="url(#cLf)"><rect x="140" y="0" width="160" height="170" fill="url(#gLlo)"/><path d="M150 45.2L206 73.5L215 60L215 15L150 15Z" fill="url(#gLup)"/><path d="M160 49.4L176 57.6L196 68.6L176 60.8Z" fill="#eeeeee" opacity="0.6"/></g>
<g clip-path="url(#cRf)"><rect x="140" y="0" width="160" height="170" fill="url(#gRlo)"/><path d="M227 71.2L285 48.5L285 15L215 15L215 60Z" fill="url(#gRup)"/><path d="M231 69.5L262 57.5" stroke="#e0e0e0" stroke-width="1.2" fill="none" opacity="0.45"/></g>
<g clip-path="url(#cBf)"><rect x="140" y="85" width="76.5" height="80" fill="url(#pBl)"/><rect x="216.5" y="85" width="80" height="80" fill="url(#pBr)"/></g>
</g>
</g>
<text transform="translate(216.6 124.7) scale(1 1.04)" text-anchor="middle" class="v">LCL</text>
</g>
<g transform="translate(637.8 0.3)">
<g filter="url(#fSoft)">
<path d="M214.8 9.2C211.1 9.1 204.3 6.8 199.0 6.8C193.7 6.8 188.8 7.5 183.2 9.0C177.5 10.5 170.9 12.2 165.1 15.8C159.3 19.4 152.8 24.9 148.2 30.5C143.6 36.1 140.1 43.4 137.8 49.6C135.5 55.8 134.7 61.3 134.4 67.7C134.2 74.1 135.1 82.4 136.3 88.0C137.5 93.6 139.2 97.0 141.5 101.3C143.8 105.5 148.0 110.6 150.3 113.5C152.6 116.4 154.0 116.5 155.3 118.8C156.7 121.1 157.0 124.1 158.4 127.1C159.8 130.1 161.3 133.2 163.9 136.6C166.5 140.0 170.1 143.9 174.0 147.4C177.9 150.9 182.8 154.7 187.6 157.6C192.4 160.5 198.1 163.1 203.0 164.6C207.9 166.1 212.7 166.6 217.0 166.6C221.3 166.6 224.6 165.9 229.0 164.8C233.4 163.7 238.8 162.3 243.5 160.0C248.2 157.7 252.6 154.9 257.1 150.8C261.6 146.7 267.0 140.8 270.6 135.2C274.2 129.5 275.6 122.8 278.8 116.9C282.0 111.0 287.0 104.5 289.6 100.0C292.2 95.5 293.2 95.4 294.6 90.0C296.0 84.6 297.7 74.0 297.9 67.7C298.1 61.4 297.4 57.2 296.0 52.0C294.6 46.8 292.2 40.9 289.5 36.5C286.8 32.1 283.5 28.9 279.5 25.5C275.5 22.1 270.4 18.5 265.5 15.8C260.6 13.1 255.8 10.8 250.3 9.3C244.8 7.8 237.4 6.9 232.6 6.6C227.8 6.3 224.5 7.2 221.5 7.6C218.5 8.0 218.6 9.3 214.8 9.2Z" fill="url(#gBody)"/>
<g clip-path="url(#cBody)">
<path d="M146 46C141 70 146 100 157 120C166 136 180 149 196 157C202 160 208 162 214 163" stroke="url(#gBand)" stroke-width="46" fill="none"/>
<g filter="url(#fBlur3)">
<path d="M222 12C262 16 284 38 291 64" stroke="#bfbfbf" stroke-width="34" fill="none"/>
<path d="M291 82C288 104 270 137 238 156" stroke="#d2d2d2" stroke-width="26" fill="none"/>
</g>
<path d="M214.8 9.2C211.1 9.1 204.3 6.8 199.0 6.8C193.7 6.8 188.8 7.5 183.2 9.0C177.5 10.5 170.9 12.2 165.1 15.8C159.3 19.4 152.8 24.9 148.2 30.5C143.6 36.1 140.1 43.4 137.8 49.6C135.5 55.8 134.7 61.3 134.4 67.7C134.2 74.1 135.1 82.4 136.3 88.0C137.5 93.6 139.2 97.0 141.5 101.3C143.8 105.5 148.0 110.6 150.3 113.5C152.6 116.4 154.0 116.5 155.3 118.8C156.7 121.1 157.0 124.1 158.4 127.1C159.8 130.1 161.3 133.2 163.9 136.6C166.5 140.0 170.1 143.9 174.0 147.4C177.9 150.9 182.8 154.7 187.6 157.6C192.4 160.5 198.1 163.1 203.0 164.6C207.9 166.1 212.7 166.6 217.0 166.6C221.3 166.6 224.6 165.9 229.0 164.8C233.4 163.7 238.8 162.3 243.5 160.0C248.2 157.7 252.6 154.9 257.1 150.8C261.6 146.7 267.0 140.8 270.6 135.2C274.2 129.5 275.6 122.8 278.8 116.9C282.0 111.0 287.0 104.5 289.6 100.0C292.2 95.5 293.2 95.4 294.6 90.0C296.0 84.6 297.7 74.0 297.9 67.7C298.1 61.4 297.4 57.2 296.0 52.0C294.6 46.8 292.2 40.9 289.5 36.5C286.8 32.1 283.5 28.9 279.5 25.5C275.5 22.1 270.4 18.5 265.5 15.8C260.6 13.1 255.8 10.8 250.3 9.3C244.8 7.8 237.4 6.9 232.6 6.6C227.8 6.3 224.5 7.2 221.5 7.6C218.5 8.0 218.6 9.3 214.8 9.2Z" fill="none" stroke="#cccccc" stroke-width="1.2" opacity="0.6"/>
</g>
<path d="M120.3 16.7L172 44.6L163 60.6L112.2 31.7Q111.4 31 111.9 30Z" fill="url(#gTubeA)"/>
<path d="M127.3 28.9L161 44.5" stroke="#f2f2f2" stroke-width="2.1" fill="none" stroke-linecap="round" opacity="0.95"/>
<path d="M209.3 140L207.2 162V190.8Q207.2 192.8 209.2 192.8H225.8Q227.8 192.8 227.8 190.8V162L226.4 140Z" fill="url(#gTubeB)"/>
<path d="M221.5 20.3C226.6 20.6 231.3 21.2 236.0 22.6C240.7 24.0 245.1 25.6 249.6 28.4C254.1 31.2 259.1 34.2 263.2 39.3C267.3 44.4 271.8 52.4 274.4 59.0C277.0 65.6 278.1 72.8 278.6 79.0C279.1 85.2 278.3 90.9 277.4 95.9C276.5 100.9 275.1 105.2 273.0 109.2C270.9 113.2 268.1 116.2 264.5 120.0C260.9 123.8 255.5 129.2 251.5 132.2C247.5 135.2 244.2 136.2 240.3 137.9C236.4 139.6 231.9 141.2 228.0 142.2C224.1 143.1 220.7 143.8 217.0 143.6C213.3 143.4 209.7 142.2 206.0 141.2C202.3 140.1 198.5 138.7 195.0 137.3C191.5 135.9 189.5 135.7 185.0 132.8C180.5 129.9 172.3 125.5 167.9 120.0C163.5 114.5 160.6 106.7 158.6 100.0C156.6 93.3 155.8 86.1 155.8 80.0C155.9 73.9 157.4 68.6 158.9 63.2C160.4 57.8 162.6 51.9 165.1 47.4C167.6 42.9 170.4 39.7 174.2 36.1C178.0 32.5 182.4 28.5 187.7 26.0C192.9 23.5 200.1 21.8 205.7 20.9C211.3 19.9 216.4 20.0 221.5 20.3Z" fill="url(#gRing)"/>
<path d="M216.5 26.0C221.3 26.0 227.9 26.5 233.0 27.6C238.1 28.7 242.6 30.0 247.0 32.6C251.4 35.2 256.1 38.3 259.5 43.0C262.9 47.7 265.5 55.0 267.5 61.0C269.5 67.0 271.1 73.3 271.6 79.0C272.1 84.7 271.5 90.4 270.6 95.0C269.8 99.6 268.5 103.0 266.5 106.5C264.5 110.0 261.7 113.0 258.5 116.2C255.3 119.4 251.2 123.2 247.5 125.6C243.8 128.0 239.6 129.2 236.0 130.4C232.4 131.6 229.2 132.1 226.0 132.6C222.8 133.1 220.2 133.2 217.0 133.2C213.8 133.2 210.2 132.9 207.0 132.4C203.8 131.9 201.5 131.5 197.7 130.0C193.9 128.5 188.8 126.8 184.4 123.4C180.0 120.0 174.6 113.7 171.3 109.5C168.0 105.3 166.1 102.9 164.6 98.0C163.1 93.1 162.2 85.5 162.3 80.0C162.4 74.5 163.6 69.8 165.0 65.0C166.4 60.2 168.5 55.5 170.8 51.5C173.1 47.5 175.8 44.1 179.0 41.0C182.2 37.9 185.8 35.3 190.0 33.0C194.2 30.7 199.6 28.6 204.0 27.4C208.4 26.2 211.7 26.0 216.5 26.0Z" fill="#ffffff"/>
<g clip-path="url(#cInner)">
<g clip-path="url(#cLr)"><rect x="140" y="0" width="160" height="170" fill="#f0a6a6"/></g>
<g clip-path="url(#cRr)"><rect x="140" y="0" width="160" height="170" fill="#dadada"/></g>
<g clip-path="url(#cBr)"><rect x="140" y="0" width="160" height="170" fill="#ececec"/></g>
<g clip-path="url(#cLf)"><rect x="140" y="0" width="160" height="170" fill="url(#pLlo)"/><path d="M150 45.2L206 73.5L215 60L215 15L150 15Z" fill="url(#pLup)"/><path d="M160 49.4L176 57.6L196 68.6L176 60.8Z" fill="#f6c0c0" opacity="0.9"/></g>
<g clip-path="url(#cRf)"><rect x="140" y="0" width="160" height="170" fill="url(#gRlo)"/><path d="M227 71.2L285 48.5L285 15L215 15L215 60Z" fill="url(#gRup)"/><path d="M231 69.5L262 57.5" stroke="#e0e0e0" stroke-width="1.2" fill="none" opacity="0.45"/></g>
<g clip-path="url(#cBf)"><rect x="140" y="85" width="76.5" height="80" fill="url(#gBl)"/><rect x="216.5" y="85" width="80" height="80" fill="url(#gBr)"/></g>
</g>
</g>
<text transform="translate(198.2 67.8) rotate(-60) scale(1 1.04)" text-anchor="middle" class="v">RCL</text>
</g>
<g transform="translate(1299.5 0.2)">
<g filter="url(#fSoft)">
<path d="M214.8 9.2C211.1 9.1 204.3 6.8 199.0 6.8C193.7 6.8 188.8 7.5 183.2 9.0C177.5 10.5 170.9 12.2 165.1 15.8C159.3 19.4 152.8 24.9 148.2 30.5C143.6 36.1 140.1 43.4 137.8 49.6C135.5 55.8 134.7 61.3 134.4 67.7C134.2 74.1 135.1 82.4 136.3 88.0C137.5 93.6 139.2 97.0 141.5 101.3C143.8 105.5 148.0 110.6 150.3 113.5C152.6 116.4 154.0 116.5 155.3 118.8C156.7 121.1 157.0 124.1 158.4 127.1C159.8 130.1 161.3 133.2 163.9 136.6C166.5 140.0 170.1 143.9 174.0 147.4C177.9 150.9 182.8 154.7 187.6 157.6C192.4 160.5 198.1 163.1 203.0 164.6C207.9 166.1 212.7 166.6 217.0 166.6C221.3 166.6 224.6 165.9 229.0 164.8C233.4 163.7 238.8 162.3 243.5 160.0C248.2 157.7 252.6 154.9 257.1 150.8C261.6 146.7 267.0 140.8 270.6 135.2C274.2 129.5 275.6 122.8 278.8 116.9C282.0 111.0 287.0 104.5 289.6 100.0C292.2 95.5 293.2 95.4 294.6 90.0C296.0 84.6 297.7 74.0 297.9 67.7C298.1 61.4 297.4 57.2 296.0 52.0C294.6 46.8 292.2 40.9 289.5 36.5C286.8 32.1 283.5 28.9 279.5 25.5C275.5 22.1 270.4 18.5 265.5 15.8C260.6 13.1 255.8 10.8 250.3 9.3C244.8 7.8 237.4 6.9 232.6 6.6C227.8 6.3 224.5 7.2 221.5 7.6C218.5 8.0 218.6 9.3 214.8 9.2Z" fill="url(#gBody)"/>
<g clip-path="url(#cBody)">
<path d="M146 46C141 70 146 100 157 120C166 136 180 149 196 157C202 160 208 162 214 163" stroke="url(#gBand)" stroke-width="46" fill="none"/>
<g filter="url(#fBlur3)">
<path d="M222 12C262 16 284 38 291 64" stroke="#bfbfbf" stroke-width="34" fill="none"/>
<path d="M291 82C288 104 270 137 238 156" stroke="#d2d2d2" stroke-width="26" fill="none"/>
</g>
<path d="M214.8 9.2C211.1 9.1 204.3 6.8 199.0 6.8C193.7 6.8 188.8 7.5 183.2 9.0C177.5 10.5 170.9 12.2 165.1 15.8C159.3 19.4 152.8 24.9 148.2 30.5C143.6 36.1 140.1 43.4 137.8 49.6C135.5 55.8 134.7 61.3 134.4 67.7C134.2 74.1 135.1 82.4 136.3 88.0C137.5 93.6 139.2 97.0 141.5 101.3C143.8 105.5 148.0 110.6 150.3 113.5C152.6 116.4 154.0 116.5 155.3 118.8C156.7 121.1 157.0 124.1 158.4 127.1C159.8 130.1 161.3 133.2 163.9 136.6C166.5 140.0 170.1 143.9 174.0 147.4C177.9 150.9 182.8 154.7 187.6 157.6C192.4 160.5 198.1 163.1 203.0 164.6C207.9 166.1 212.7 166.6 217.0 166.6C221.3 166.6 224.6 165.9 229.0 164.8C233.4 163.7 238.8 162.3 243.5 160.0C248.2 157.7 252.6 154.9 257.1 150.8C261.6 146.7 267.0 140.8 270.6 135.2C274.2 129.5 275.6 122.8 278.8 116.9C282.0 111.0 287.0 104.5 289.6 100.0C292.2 95.5 293.2 95.4 294.6 90.0C296.0 84.6 297.7 74.0 297.9 67.7C298.1 61.4 297.4 57.2 296.0 52.0C294.6 46.8 292.2 40.9 289.5 36.5C286.8 32.1 283.5 28.9 279.5 25.5C275.5 22.1 270.4 18.5 265.5 15.8C260.6 13.1 255.8 10.8 250.3 9.3C244.8 7.8 237.4 6.9 232.6 6.6C227.8 6.3 224.5 7.2 221.5 7.6C218.5 8.0 218.6 9.3 214.8 9.2Z" fill="none" stroke="#cccccc" stroke-width="1.2" opacity="0.6"/>
</g>
<path d="M120.3 16.7L172 44.6L163 60.6L112.2 31.7Q111.4 31 111.9 30Z" fill="url(#gTubeA)"/>
<path d="M127.3 28.9L161 44.5" stroke="#f2f2f2" stroke-width="2.1" fill="none" stroke-linecap="round" opacity="0.95"/>
<path d="M209.3 140L207.2 162V190.8Q207.2 192.8 209.2 192.8H225.8Q227.8 192.8 227.8 190.8V162L226.4 140Z" fill="url(#gTubeB)"/>
<path d="M221.5 20.3C226.6 20.6 231.3 21.2 236.0 22.6C240.7 24.0 245.1 25.6 249.6 28.4C254.1 31.2 259.1 34.2 263.2 39.3C267.3 44.4 271.8 52.4 274.4 59.0C277.0 65.6 278.1 72.8 278.6 79.0C279.1 85.2 278.3 90.9 277.4 95.9C276.5 100.9 275.1 105.2 273.0 109.2C270.9 113.2 268.1 116.2 264.5 120.0C260.9 123.8 255.5 129.2 251.5 132.2C247.5 135.2 244.2 136.2 240.3 137.9C236.4 139.6 231.9 141.2 228.0 142.2C224.1 143.1 220.7 143.8 217.0 143.6C213.3 143.4 209.7 142.2 206.0 141.2C202.3 140.1 198.5 138.7 195.0 137.3C191.5 135.9 189.5 135.7 185.0 132.8C180.5 129.9 172.3 125.5 167.9 120.0C163.5 114.5 160.6 106.7 158.6 100.0C156.6 93.3 155.8 86.1 155.8 80.0C155.9 73.9 157.4 68.6 158.9 63.2C160.4 57.8 162.6 51.9 165.1 47.4C167.6 42.9 170.4 39.7 174.2 36.1C178.0 32.5 182.4 28.5 187.7 26.0C192.9 23.5 200.1 21.8 205.7 20.9C211.3 19.9 216.4 20.0 221.5 20.3Z" fill="url(#gRing)"/>
<path d="M216.5 26.0C221.3 26.0 227.9 26.5 233.0 27.6C238.1 28.7 242.6 30.0 247.0 32.6C251.4 35.2 256.1 38.3 259.5 43.0C262.9 47.7 265.5 55.0 267.5 61.0C269.5 67.0 271.1 73.3 271.6 79.0C272.1 84.7 271.5 90.4 270.6 95.0C269.8 99.6 268.5 103.0 266.5 106.5C264.5 110.0 261.7 113.0 258.5 116.2C255.3 119.4 251.2 123.2 247.5 125.6C243.8 128.0 239.6 129.2 236.0 130.4C232.4 131.6 229.2 132.1 226.0 132.6C222.8 133.1 220.2 133.2 217.0 133.2C213.8 133.2 210.2 132.9 207.0 132.4C203.8 131.9 201.5 131.5 197.7 130.0C193.9 128.5 188.8 126.8 184.4 123.4C180.0 120.0 174.6 113.7 171.3 109.5C168.0 105.3 166.1 102.9 164.6 98.0C163.1 93.1 162.2 85.5 162.3 80.0C162.4 74.5 163.6 69.8 165.0 65.0C166.4 60.2 168.5 55.5 170.8 51.5C173.1 47.5 175.8 44.1 179.0 41.0C182.2 37.9 185.8 35.3 190.0 33.0C194.2 30.7 199.6 28.6 204.0 27.4C208.4 26.2 211.7 26.0 216.5 26.0Z" fill="#ffffff"/>
<g clip-path="url(#cInner)">
<g clip-path="url(#cLr)"><rect x="140" y="0" width="160" height="170" fill="#dedede"/></g>
<g clip-path="url(#cRr)"><rect x="140" y="0" width="160" height="170" fill="#f0a6a6"/></g>
<g clip-path="url(#cBr)"><rect x="140" y="0" width="160" height="170" fill="#ececec"/></g>
<g clip-path="url(#cLf)"><rect x="140" y="0" width="160" height="170" fill="url(#gLlo)"/><path d="M150 45.2L206 73.5L215 60L215 15L150 15Z" fill="url(#gLup)"/><path d="M160 49.4L176 57.6L196 68.6L176 60.8Z" fill="#eeeeee" opacity="0.6"/></g>
<g clip-path="url(#cRf)"><rect x="140" y="0" width="160" height="170" fill="url(#pRlo)"/><path d="M227 71.2L285 48.5L285 15L215 15L215 60Z" fill="url(#pRup)"/><path d="M231 69.5L262 57.5" stroke="#f4b8b8" stroke-width="1.2" fill="none" opacity="0.5"/><path d="M262 30C268 44 272.5 60 273 80C273 92 271 102 267 110" stroke="#e4e4e4" stroke-width="7" fill="none"/></g>
<g clip-path="url(#cRr)"><path d="M262 30C268 44 272.5 60 273 80C273 92 271 102 267 110" stroke="#e4e4e4" stroke-width="7" fill="none"/></g>
<g clip-path="url(#cBf)"><rect x="140" y="85" width="76.5" height="80" fill="url(#gBl)"/><rect x="216.5" y="85" width="80" height="80" fill="url(#gBr)"/></g>
</g>
</g>
<text transform="translate(243.1 72.7) rotate(45) scale(1 1.04)" text-anchor="middle" class="v">NCL</text>
</g>
</svg>
</body>
</html>
